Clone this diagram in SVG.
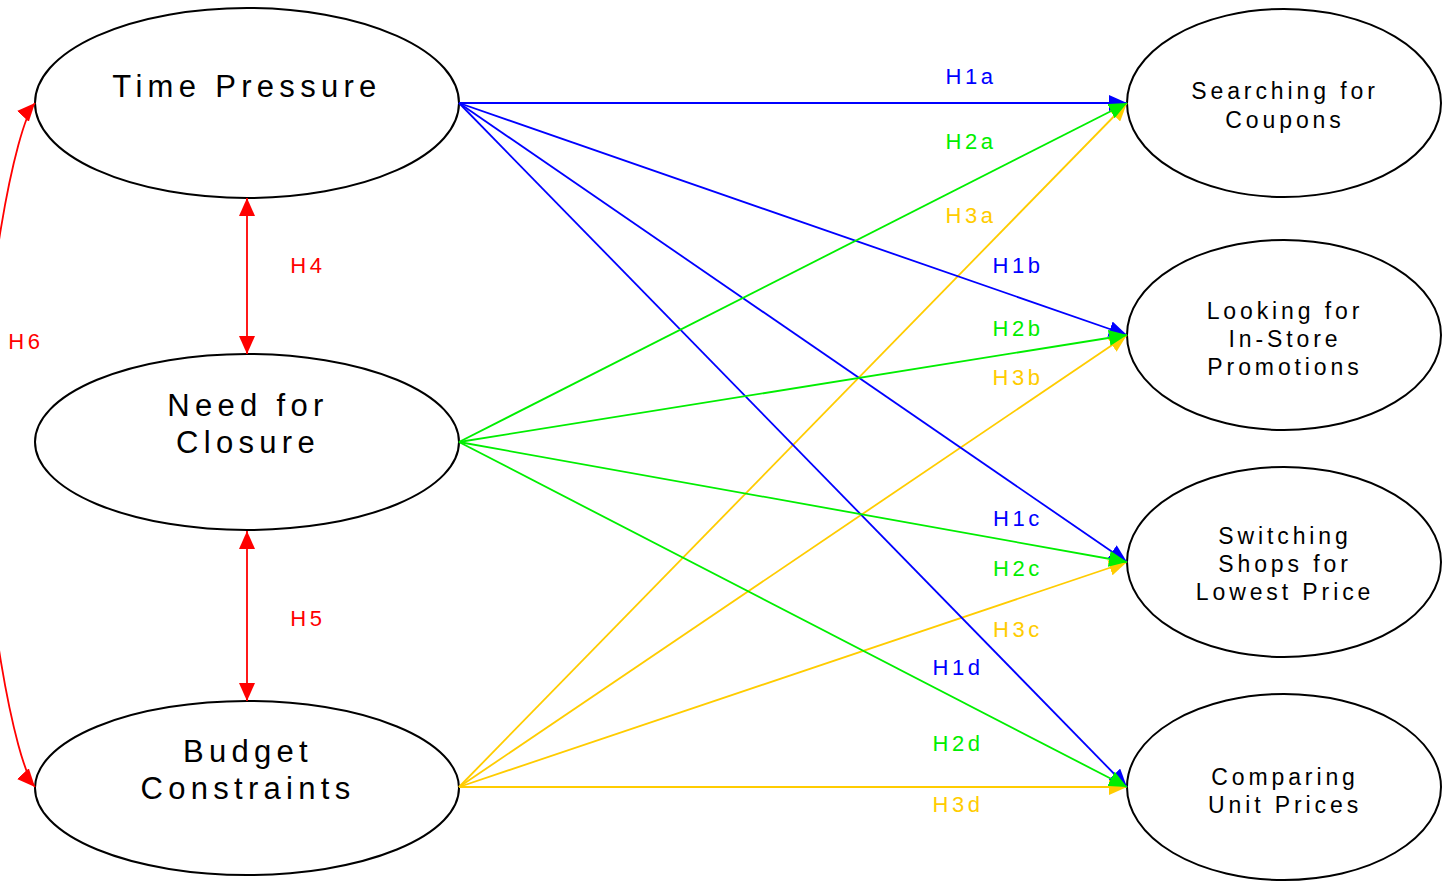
<svg xmlns="http://www.w3.org/2000/svg" width="1450" height="881" viewBox="0 0 1450 881">
  <style>
    .node ellipse { fill: #ffffff; stroke: #000000; stroke-width: 2; }
    .big { font-family: "Liberation Sans", Arial, sans-serif; font-size: 31px; letter-spacing: 5.3px; fill: #000; text-anchor: middle; }
    .small { font-family: "Liberation Sans", Arial, sans-serif; font-size: 23px; letter-spacing: 3.9px; fill: #000; text-anchor: middle; }
    .lbl { font-family: "Liberation Sans", Arial, sans-serif; font-size: 22px; letter-spacing: 3.6px; text-anchor: middle; }
    .edge { fill: none; stroke-width: 1.8; }
    .blue { stroke: #0000ff; }
    .green { stroke: #00ee00; }
    .gold { stroke: #ffcc00; }
    .red { stroke: #ff0000; }
  </style>
  <defs>
    <marker id="ah-blue" viewBox="0 0 18 16" refX="18" refY="8" markerWidth="18" markerHeight="16" markerUnits="userSpaceOnUse" orient="auto-start-reverse">
      <path d="M0,0 L18,8 L0,16 z" fill="#0000ff"/>
    </marker>
    <marker id="ah-green" viewBox="0 0 18 16" refX="18" refY="8" markerWidth="18" markerHeight="16" markerUnits="userSpaceOnUse" orient="auto-start-reverse">
      <path d="M0,0 L18,8 L0,16 z" fill="#00ee00"/>
    </marker>
    <marker id="ah-gold" viewBox="0 0 18 16" refX="18" refY="8" markerWidth="18" markerHeight="16" markerUnits="userSpaceOnUse" orient="auto-start-reverse">
      <path d="M0,0 L18,8 L0,16 z" fill="#ffcc00"/>
    </marker>
    <marker id="ah-red" viewBox="0 0 18 16" refX="18" refY="8" markerWidth="18" markerHeight="16" markerUnits="userSpaceOnUse" orient="auto-start-reverse">
      <path d="M0,0 L18,8 L0,16 z" fill="#ff0000"/>
    </marker>
  </defs>

  <rect width="1450" height="881" fill="#ffffff"/>

  <!-- predictor nodes -->
  <g id="time-pressure" class="node">
    <ellipse cx="247" cy="103" rx="212" ry="95"/>
    <text class="big" x="247" y="97">Time Pressure</text>
  </g>
  <g id="need-for-closure" class="node">
    <ellipse cx="247" cy="442" rx="212" ry="88"/>
    <text class="big" x="248" y="416">Need for</text>
    <text class="big" x="248" y="453">Closure</text>
  </g>
  <g id="budget-constraints" class="node">
    <ellipse cx="247" cy="788" rx="212" ry="87"/>
    <text class="big" x="248" y="762">Budget</text>
    <text class="big" x="248" y="799">Constraints</text>
  </g>

  <!-- outcome nodes -->
  <g id="searching-coupons" class="node">
    <ellipse cx="1284" cy="103" rx="157" ry="94"/>
    <text class="small" x="1285" y="99">Searching for</text>
    <text class="small" x="1285" y="128">Coupons</text>
  </g>
  <g id="instore-promotions" class="node">
    <ellipse cx="1284" cy="335" rx="157" ry="95"/>
    <text class="small" x="1285" y="319">Looking for</text>
    <text class="small" x="1285" y="347">In-Store</text>
    <text class="small" x="1285" y="375">Promotions</text>
  </g>
  <g id="switching-shops" class="node">
    <ellipse cx="1284" cy="562" rx="157" ry="95"/>
    <text class="small" x="1285" y="544">Switching</text>
    <text class="small" x="1285" y="572">Shops for</text>
    <text class="small" x="1285" y="600">Lowest Price</text>
  </g>
  <g id="comparing-unit-prices" class="node">
    <ellipse cx="1284" cy="787" rx="157" ry="93"/>
    <text class="small" x="1285" y="785">Comparing</text>
    <text class="small" x="1285" y="813">Unit Prices</text>
  </g>

  <!-- connectors -->
  <g id="connectors">
    <line class="edge gold" x1="459" y1="787" x2="1127" y2="103" marker-end="url(#ah-gold)"/>
    <line class="edge gold" x1="459" y1="787" x2="1127" y2="335" marker-end="url(#ah-gold)"/>
    <line class="edge gold" x1="459" y1="787" x2="1127" y2="562" marker-end="url(#ah-gold)"/>
    <line class="edge gold" x1="459" y1="787" x2="1127" y2="787" marker-end="url(#ah-gold)"/>

    <line class="edge blue" x1="459" y1="103" x2="1127" y2="103" marker-end="url(#ah-blue)"/>
    <line class="edge blue" x1="459" y1="103" x2="1127" y2="335" marker-end="url(#ah-blue)"/>
    <line class="edge blue" x1="459" y1="103" x2="1127" y2="562" marker-end="url(#ah-blue)"/>
    <line class="edge blue" x1="459" y1="103" x2="1127" y2="787" marker-end="url(#ah-blue)"/>

    <line class="edge green" x1="459" y1="442" x2="1127" y2="103" marker-end="url(#ah-green)"/>
    <line class="edge green" x1="459" y1="442" x2="1127" y2="335" marker-end="url(#ah-green)"/>
    <line class="edge green" x1="459" y1="442" x2="1127" y2="562" marker-end="url(#ah-green)"/>
    <line class="edge green" x1="459" y1="442" x2="1127" y2="787" marker-end="url(#ah-green)"/>

    <!-- correlations between predictors -->
    <line class="edge red" x1="247" y1="198" x2="247" y2="354" marker-start="url(#ah-red)" marker-end="url(#ah-red)"/>
    <line class="edge red" x1="247" y1="531" x2="247" y2="701" marker-start="url(#ah-red)" marker-end="url(#ah-red)"/>
    <path class="edge red" d="M35,103 C15,125 -18,300 -18,445 C-18,590 15,765 35,787" marker-start="url(#ah-red)" marker-end="url(#ah-red)"/>

    <!-- labels -->
    <text class="lbl" x="971" y="84" fill="#0000ff">H1a</text>
    <text class="lbl" x="971" y="149" fill="#00ee00">H2a</text>
    <text class="lbl" x="971" y="223" fill="#ffcc00">H3a</text>
    <text class="lbl" x="1018" y="273" fill="#0000ff">H1b</text>
    <text class="lbl" x="1018" y="336" fill="#00ee00">H2b</text>
    <text class="lbl" x="1018" y="385" fill="#ffcc00">H3b</text>
    <text class="lbl" x="1018" y="526" fill="#0000ff">H1c</text>
    <text class="lbl" x="1018" y="576" fill="#00ee00">H2c</text>
    <text class="lbl" x="1018" y="637" fill="#ffcc00">H3c</text>
    <text class="lbl" x="958" y="675" fill="#0000ff">H1d</text>
    <text class="lbl" x="958" y="751" fill="#00ee00">H2d</text>
    <text class="lbl" x="958" y="812" fill="#ffcc00">H3d</text>
    <text class="lbl" x="308" y="273" fill="#ff0000">H4</text>
    <text class="lbl" x="308" y="626" fill="#ff0000">H5</text>
    <text class="lbl" x="26" y="349" fill="#ff0000">H6</text>
  </g>
</svg>
